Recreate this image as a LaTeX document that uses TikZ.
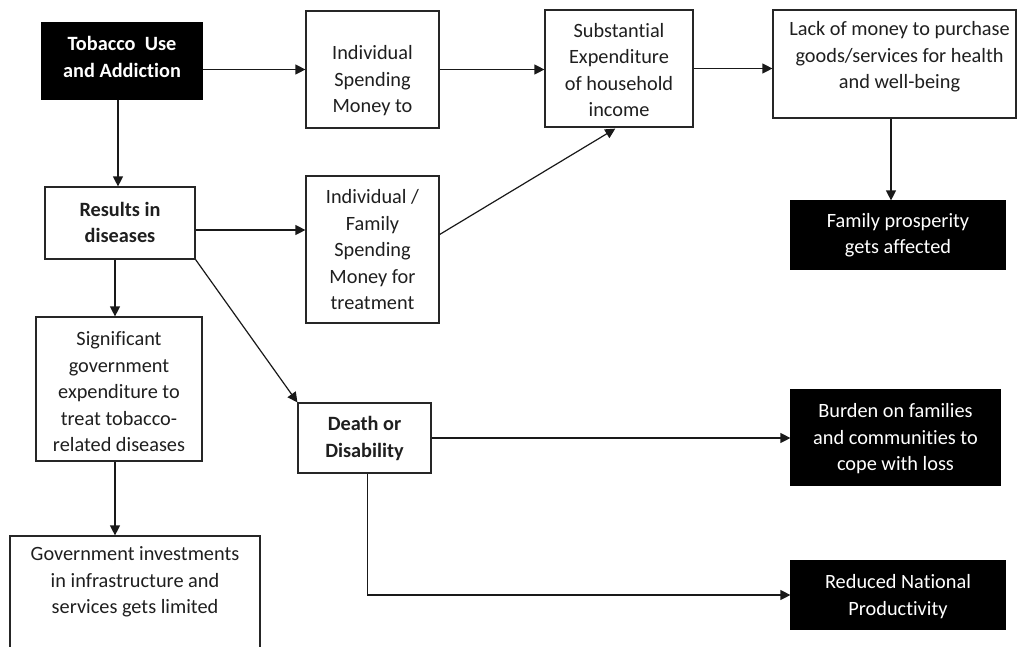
\documentclass[tikz,border=0pt]{standalone}
\usepackage{fontspec}
\setmainfont{Carlito}[Ligatures=NoCommon]
\usetikzlibrary{arrows.meta,calc}
\begin{document}
\begin{tikzpicture}[x=1pt,y=-1pt,
  box/.style={draw=black!85, line width=1.2pt, fill=white, inner sep=0pt},
  dark/.style={draw=black, line width=1.2pt, fill=black, inner sep=0pt},
  txt/.style={align=center, inner sep=0pt, text=black!88, font=\fontsize{20.3}{26.5}\selectfont},
  btxt/.style={txt, font=\fontsize{20.3}{26.5}\selectfont\bfseries},
  wtxt/.style={txt, text=white},
  wbtxt/.style={btxt, text=white},
  arr/.style={-{Triangle[length=10pt,width=10pt]}, line width=1.2pt, draw=black!90}]
\useasboundingbox (0,0) rectangle (1017,646);
\begin{scope}
\clip (0,0) rectangle (1017,646);
% boxes
\node[dark, minimum width=160, minimum height=76] (tob) at (122,61) {};
\node[box, minimum width=133, minimum height=117] (ind) at (372.5,69.5) {};
\node[box, minimum width=148, minimum height=117] (sub) at (619,68.5) {};
\node[box, minimum width=243, minimum height=108] (lack) at (894.5,64) {};
\node[dark, minimum width=214, minimum height=68] (fam) at (898,235) {};
\node[box, minimum width=150, minimum height=72] (res) at (120,223) {};
\node[box, minimum width=133, minimum height=147] (IF) at (372.5,249.5) {};
\node[box, minimum width=166, minimum height=144] (sig) at (119,389) {};
\node[box, minimum width=133, minimum height=70] (death) at (364.5,438) {};
\node[box, minimum width=250, minimum height=114] (gov) at (135,593) {};
\node[dark, minimum width=209, minimum height=95] (burden) at (895.5,437.5) {};
\node[dark, minimum width=214, minimum height=68] (red) at (898,595) {};
% texts
\node[wbtxt] (tobT) at (122,57) {Tobacco\ \ Use\\and Addiction};
\node[txt] (indT) at (372.5,81) {Individual\\Spending\\Money to};
\node[txt] (subT) at (619,70) {Substantial\\Expenditure\\of household\\income};
\node[txt] (lackT) at (899.5,57) {Lack of money to purchase\\goods/services for health\\and well-being};
\node[wtxt] (famT) at (898,235) {Family prosperity\\gets affected};
\node[btxt] (resT) at (120,222.5) {Results in\\diseases};
\node[txt] (IFT) at (372.5,250) {Individual /\\Family\\Spending\\Money for\\treatment};
\node[txt] (sigT) at (119,392) {Significant\\government\\expenditure to\\treat tobacco-\\related diseases};
\node[btxt] (deathT) at (364.5,438.5) {Death or\\Disability};
\node[txt] (govT) at (135,582) {Government investments\\in infrastructure and\\services gets limited};
\node[wtxt] (burdenT) at (895.5,439) {Burden on families\\and communities to\\cope with loss};
\node[wtxt] (redT) at (898,596.5) {Reduced National\\Productivity};
% connector helper points
\coordinate (lackS) at ($(lack.south)+(-3.5,0)$);
\coordinate (tobS) at ($(tob.south)+(-4,0)$);
\coordinate (resE) at ($(res.east)+(0,7)$);
\coordinate (IFE) at ($(IF.east)+(0,-15)$);
\coordinate (subS) at ($(sub.south)+(-2,0)$);
\coordinate (resS) at ($(res.south)+(-5,0)$);
\coordinate (sigS) at ($(sig.south)+(-4,0)$);
\coordinate (deathS) at ($(death.south)+(3,0)$);
% connectors
\draw[arr] (tob.east |- ind.west) -- (ind.west);
\draw[arr] (ind.east) -- (ind.east -| sub.west);
\draw[arr] (sub.east) -- (sub.east -| lack.west);
\draw[arr] (lackS) -- (lackS |- fam.north);
\draw[arr] (tobS) -- (tobS |- res.north);
\draw[arr] (resE) -- (resE -| IF.west);
\draw[arr, shorten >=2pt] (IFE) -- (subS);
\draw[arr] (resS) -- (resS |- sig.north);
\draw[arr] (res.south east) -- (death.north west);
\draw[arr] (sigS) -- (sigS |- gov.north);
\draw[arr] (death.east) -- (death.east -| burden.west);
\draw[arr] (deathS) |- (red.west);
\end{scope}
\end{tikzpicture}
\end{document}
